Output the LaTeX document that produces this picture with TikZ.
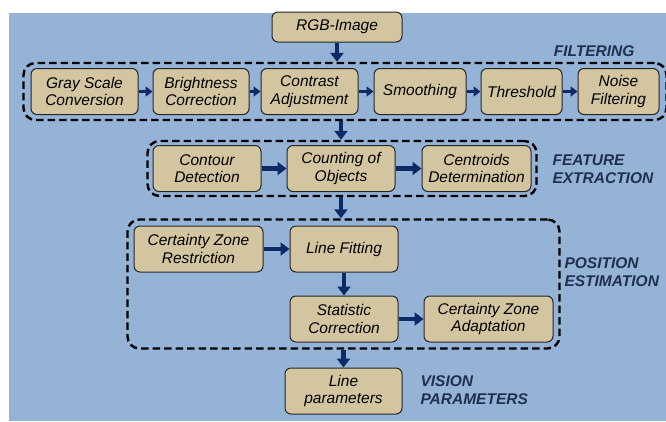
\documentclass[tikz,border=0pt]{standalone}
\usepackage{fontspec}
\setmainfont{Liberation Sans}
\usetikzlibrary{arrows.meta,positioning,fit}
\definecolor{bgblue}{HTML}{95B3D7}
\definecolor{boxtan}{HTML}{D4C5A1}
\definecolor{flownavy}{HTML}{0C2A66}
\definecolor{labnavy}{HTML}{1F3050}

\begin{document}
\begin{tikzpicture}[x=1pt, y=-1pt, >=Stealth,
  proc/.style={draw=black!85, line width=1pt, rounded corners=6pt, fill=boxtan,
    align=center, font=\fontsize{15.5}{17.5}\selectfont\itshape, inner sep=1pt,
    minimum height=46pt},
  group/.style={draw=black, line width=2.4pt, dash pattern=on 7.5pt off 4pt,
    rounded corners=12pt, inner xsep=6pt, inner ysep=5pt},
  stage/.style={font=\fontsize{15.5}{17.5}\selectfont\bfseries\itshape,
    text=labnavy, align=left},
  flow/.style={-{Triangle[length=9pt,width=13pt]}, line width=4.5pt, draw=flownavy},
  flowshort/.style={-{Triangle[length=7pt,width=10pt]}, line width=3.5pt, draw=flownavy}]
\useasboundingbox (0,0) rectangle (666,421);
\fill[bgblue] (9,13) rectangle (666,421);
% input
\node[proc, minimum width=130pt, minimum height=30pt] (rgb) at (337,27) {RGB-Image};
% filtering row
\node[proc, minimum width=107pt] (gray) at (84.5,91.5) {Gray Scale\\Conversion};
\node[proc, minimum width=96pt, right=14pt of gray] (bright) {Brightness\\Correction};
\node[proc, minimum width=97pt, right=11pt of bright] (contrast) {Contrast\\Adjustment};
\node[proc, minimum width=92pt, right=15pt of contrast] (smooth) {Smoothing};
\node[proc, minimum width=81pt, right=14pt of smooth] (thresh) {Threshold};
\node[proc, minimum width=81pt, right=15pt of thresh] (noise) {Noise\\Filtering};
\node[group, inner xsep=7pt, fit=(gray)(noise)] (filt) {};
\node[stage, anchor=east] (filtlab) at (638,51) {FILTERING};
% feature extraction row
\node[proc, minimum width=108pt] (contour) at (207,168.5) {Contour\\Detection};
\node[proc, minimum width=108pt, right=25pt of contour] (count) {Counting of\\Objects};
\node[proc, minimum width=109pt, right=26pt of count] (centroid) {Centroids\\Determination};
\node[group, inner xsep=5pt, inner ysep=4pt, fit=(contour)(centroid)] (feat) {};
\node[stage, anchor=west] (featlab) at (549,169) {FEATURE\\EXTRACTION};
% position estimation
\node[proc, minimum width=129pt] (restrict) at (198.5,249) {Certainty Zone\\Restriction};
\node[proc, minimum width=108pt, right=26pt of restrict] (linefit) {Line Fitting};
\node[proc, minimum width=108pt, below=23pt of linefit] (stat) {Statistic\\Correction};
\node[proc, minimum width=129pt, right=25pt of stat] (adapt) {Certainty Zone\\Adaptation};
\node[group, inner sep=6pt, fit=(restrict)(linefit)(stat)(adapt)] (pos) {};
\node[stage, anchor=west] (poslab) at (561,272) {POSITION\\ESTIMATION};
% output
\node[proc, minimum width=117pt] (lineparam) at (343.5,391) {Line\\parameters};
\node[stage, anchor=west] (vislab) at (417,390) {VISION\\PARAMETERS};
% connectors
\draw[flow] (rgb) -- (filt.north -| rgb);
\draw[flowshort] (gray) -- (bright);
\draw[flowshort] (bright) -- (contrast);
\draw[flowshort] (contrast) -- (smooth);
\draw[flowshort] (smooth) -- (thresh);
\draw[flowshort] (thresh) -- (noise);
\draw[flow] (filt.south -| count) -- (feat.north -| count);
\draw[flow] (contour) -- (count);
\draw[flow] (count) -- (centroid);
\draw[flow] (feat.south -| count) -- (pos.north -| count);
\draw[flow] (restrict) -- (linefit);
\draw[flow] (linefit) -- (stat);
\draw[flow] (stat) -- (adapt);
\draw[flow] (pos.south -| lineparam) -- (lineparam);
\end{tikzpicture}
\end{document}
